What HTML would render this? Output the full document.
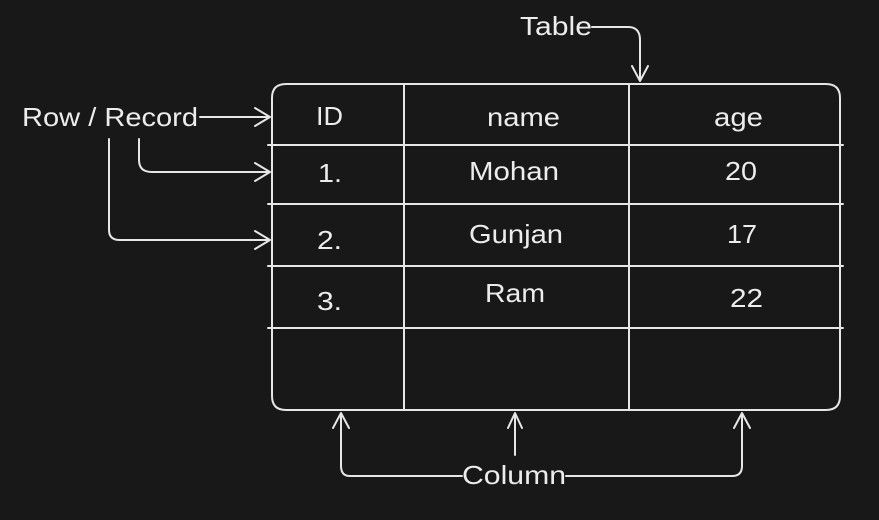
<!DOCTYPE html>
<html><head><meta charset="utf-8"><style>
html,body{margin:0;padding:0;background:#181818;}
svg{display:block}
text{font-family:"Liberation Sans",sans-serif;font-size:26px;fill:#ececec}
</style></head><body>
<svg width="879" height="520" viewBox="0 0 879 520" xmlns="http://www.w3.org/2000/svg">
<rect width="879" height="520" fill="#181818"/>
<g fill="none" stroke="#e6e6e6" stroke-width="2" stroke-linecap="round" stroke-linejoin="round">
<path d="M286 84 L826 84 Q840 84 840 98 L840 396 Q840 410 826 410 L286 410 Q272 410 272 396 L272 98 Q272 84 286 84 Z"/>
<path d="M404 84 V410 M629 84 V410"/>
<path d="M268 145 H843 M268 204 H843 M268 266 H843 M268 328 H843"/>
<path d="M200 117 H270 M255 108 L270 117 L255 126"/>
<path d="M139 139 V160 Q139 172 152 172 H270 M255 163 L270 172 L255 181"/>
<path d="M109 139 V230 Q109 240 120 240 H270 M255 231 L270 240 L255 249"/>
<path d="M592 27 H628 Q640 27 640 40 V80 M632 66 L640 81 L648 66"/>
<path d="M462 476 H350 Q341 476 341 466 V414 M333 428 L341 413 L349 428"/>
<path d="M515 455 V414 M508 428 L515 413 L522 428"/>
<path d="M566 476 H732 Q742 476 742 466 V414 M734 428 L742 413 L750 428"/>
</g>
<text x="22" y="126" textLength="176" lengthAdjust="spacingAndGlyphs">Row / Record</text>
<text x="520" y="35" textLength="72" lengthAdjust="spacingAndGlyphs">Table</text>
<text x="462" y="484" textLength="104" lengthAdjust="spacingAndGlyphs">Column</text>
<text x="316" y="125" textLength="27" lengthAdjust="spacingAndGlyphs">ID</text>
<text x="487" y="126" textLength="73" lengthAdjust="spacingAndGlyphs">name</text>
<text x="714" y="126" textLength="49" lengthAdjust="spacingAndGlyphs">age</text>
<text x="318" y="182" textLength="24" lengthAdjust="spacingAndGlyphs">1.</text>
<text x="469" y="180" textLength="90" lengthAdjust="spacingAndGlyphs">Mohan</text>
<text x="725" y="180" textLength="32" lengthAdjust="spacingAndGlyphs">20</text>
<text x="317" y="249" textLength="25" lengthAdjust="spacingAndGlyphs">2.</text>
<text x="469" y="243" textLength="94" lengthAdjust="spacingAndGlyphs">Gunjan</text>
<text x="727" y="243" textLength="30" lengthAdjust="spacingAndGlyphs">17</text>
<text x="317" y="310" textLength="25" lengthAdjust="spacingAndGlyphs">3.</text>
<text x="485" y="302" textLength="60" lengthAdjust="spacingAndGlyphs">Ram</text>
<text x="730" y="307" textLength="33" lengthAdjust="spacingAndGlyphs">22</text>
</svg>
</body></html>
